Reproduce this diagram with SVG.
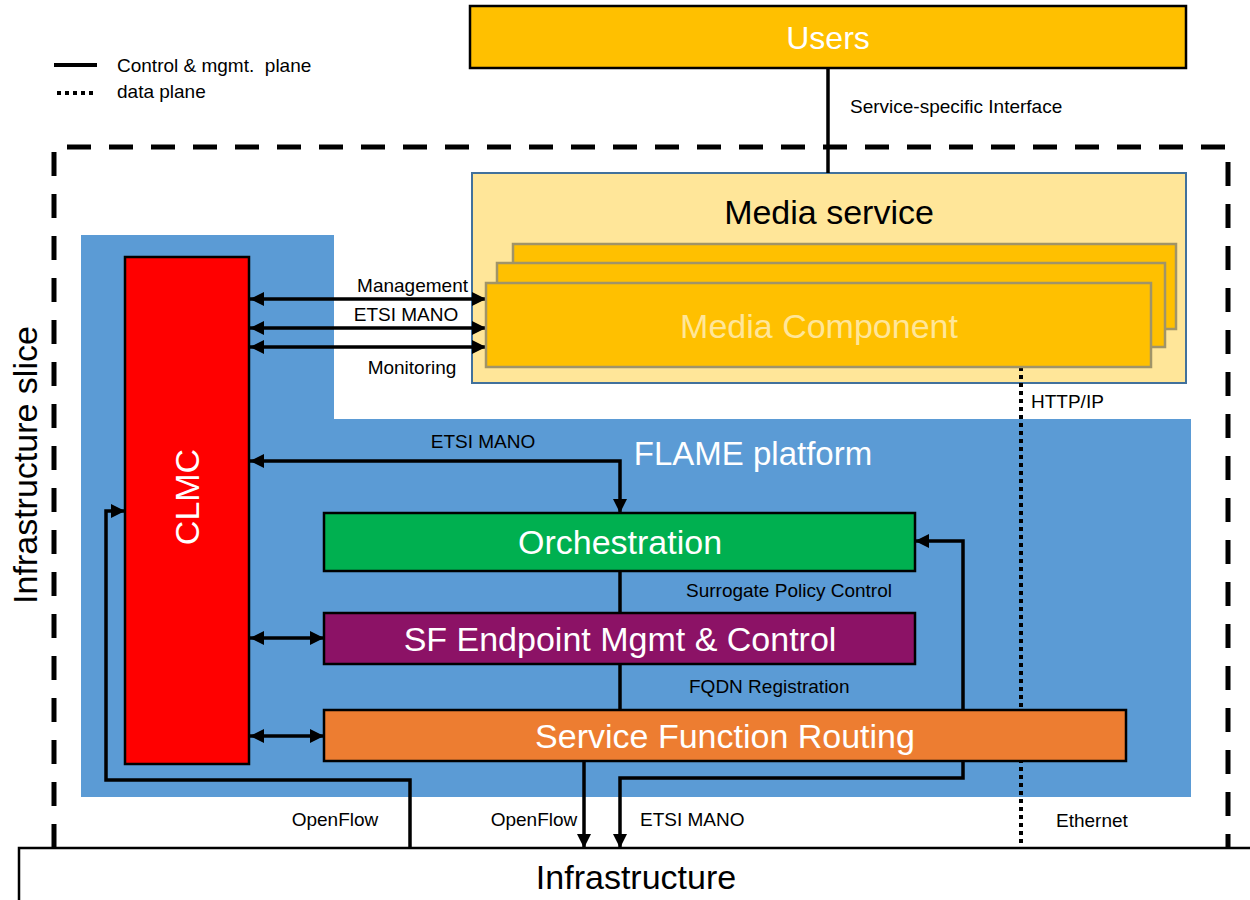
<svg xmlns="http://www.w3.org/2000/svg" width="1250" height="900" viewBox="0 0 1250 900">
<defs>
<style>
text{font-family:"Liberation Sans",Arial,sans-serif}
.lbl{font-size:19px;fill:#000}
.big{font-size:34px;text-anchor:middle}
.w{fill:#fff}
.k{fill:#000}
.conn{fill:none;stroke:#000;stroke-width:3.5}
.box{stroke:#000;stroke-width:2.5}
.mc{fill:#FFC000;stroke:#A09468;stroke-width:2.5}
</style>
<marker id="ah" viewBox="0 0 14 14" refX="14" refY="7" markerWidth="14" markerHeight="14" markerUnits="userSpaceOnUse" orient="auto-start-reverse">
<path d="M0,0 L14,7 L0,14 z" fill="#000"/>
</marker>
</defs>
<rect width="1250" height="900" fill="#fff"/>

<g id="legend">
<line x1="54" y1="65" x2="97" y2="65" stroke="#000" stroke-width="4"/>
<line x1="57" y1="93" x2="96" y2="93" stroke="#000" stroke-width="4" stroke-dasharray="4 4"/>
<text class="lbl" x="117" y="72" font-size="19.5" xml:space="preserve">Control &amp; mgmt.  plane</text>
<text class="lbl" x="117" y="98" font-size="19.5">data plane</text>
</g>

<g id="infrastructure-slice">
<path d="M54,848 V147 H1228 V848" fill="none" stroke="#000" stroke-width="5" stroke-dasharray="24 18"/>
<text class="k" font-size="34" text-anchor="middle" transform="translate(37,465) rotate(-90)">Infrastructure slice</text>
</g>

<g id="flame-platform">
<path d="M81,235 H334 V419 H1191 V797 H81 Z" fill="#5B9BD5"/>
<text class="w" x="753" y="465" font-size="33" text-anchor="middle">FLAME platform</text>
</g>

<g id="media-service">
<rect x="472" y="173" width="714" height="210" fill="#FFE699" stroke="#41719C" stroke-width="2"/>
<text class="k big" x="829" y="224">Media service</text>
</g>

<g id="connectors">
<line class="conn" x1="828" y1="68" x2="828" y2="173" stroke-width="2.5"/>
<line class="conn" x1="250" y1="299" x2="486" y2="299" marker-start="url(#ah)" marker-end="url(#ah)"/>
<line class="conn" x1="250" y1="328" x2="486" y2="328" marker-start="url(#ah)" marker-end="url(#ah)"/>
<line class="conn" x1="250" y1="347" x2="486" y2="347" marker-start="url(#ah)" marker-end="url(#ah)"/>
<polyline class="conn" points="250,461 620,461 620,513" marker-start="url(#ah)" marker-end="url(#ah)"/>
<line class="conn" x1="620" y1="571" x2="620" y2="613"/>
<line class="conn" x1="620" y1="664" x2="620" y2="710"/>
<line class="conn" x1="250" y1="638" x2="324" y2="638" marker-start="url(#ah)" marker-end="url(#ah)"/>
<line class="conn" x1="250" y1="736" x2="324" y2="736" marker-start="url(#ah)" marker-end="url(#ah)"/>
<polyline class="conn" points="620,848 620,778 963,778 963,541 915,541" marker-start="url(#ah)" marker-end="url(#ah)"/>
<line class="conn" x1="584" y1="761" x2="584" y2="848" marker-end="url(#ah)"/>
<polyline class="conn" points="410,848 410,780 106,780 106,511 125,511" marker-end="url(#ah)"/>
<line x1="1021" y1="367" x2="1021" y2="843" stroke="#000" stroke-width="4" stroke-dasharray="4 4"/>
<text class="lbl" x="850" y="113">Service-specific Interface</text>
<text class="lbl" x="468" y="292" text-anchor="end">Management</text>
<text class="lbl" x="406" y="321" text-anchor="middle">ETSI MANO</text>
<text class="lbl" x="412" y="374" text-anchor="middle">Monitoring</text>
<text class="lbl" x="483" y="448" text-anchor="middle">ETSI MANO</text>
<text class="lbl" x="686" y="597">Surrogate Policy Control</text>
<text class="lbl" x="689" y="693">FQDN Registration</text>
<text class="lbl" x="1031" y="408">HTTP/IP</text>
<text class="lbl" x="335" y="826" text-anchor="middle">OpenFlow</text>
<text class="lbl" x="534" y="826" text-anchor="middle">OpenFlow</text>
<text class="lbl" x="640" y="826">ETSI MANO</text>
<text class="lbl" x="1056" y="827">Ethernet</text>
</g>

<g id="users">
<rect class="box" x="470" y="6" width="716" height="62" fill="#FFC000"/>
<text class="w" x="828" y="49" font-size="32" text-anchor="middle">Users</text>
</g>

<g id="media-component">
<rect class="mc" x="513" y="244" width="663" height="85"/>
<rect class="mc" x="497" y="263" width="668" height="84"/>
<rect class="mc" x="486" y="283" width="665" height="84"/>
<text class="big" x="819" y="338" font-size="35" fill="#FFE699">Media Component</text>
</g>

<g id="clmc">
<rect class="box" x="125" y="257" width="124" height="507" fill="#FF0000"/>
<text class="w big" transform="translate(199,497) rotate(-90)">CLMC</text>
</g>

<g id="orchestration">
<rect class="box" x="324" y="513" width="591" height="58" fill="#00B050"/>
<text class="w big" x="620" y="554" font-size="35">Orchestration</text>
</g>

<g id="sf-endpoint">
<rect class="box" x="324" y="613" width="591" height="51" fill="#8C1266"/>
<text class="w big" x="620" y="651">SF Endpoint Mgmt &amp; Control</text>
</g>

<g id="sf-routing">
<rect class="box" x="324" y="710" width="802" height="51" fill="#ED7D31"/>
<text class="w big" x="725" y="748">Service Function Routing</text>
</g>

<g id="infrastructure">
<rect x="19" y="848" width="1240" height="60" fill="#fff" stroke="#000" stroke-width="2.5"/>
<text class="k big" x="636" y="889" font-size="35">Infrastructure</text>
</g>
</svg>
